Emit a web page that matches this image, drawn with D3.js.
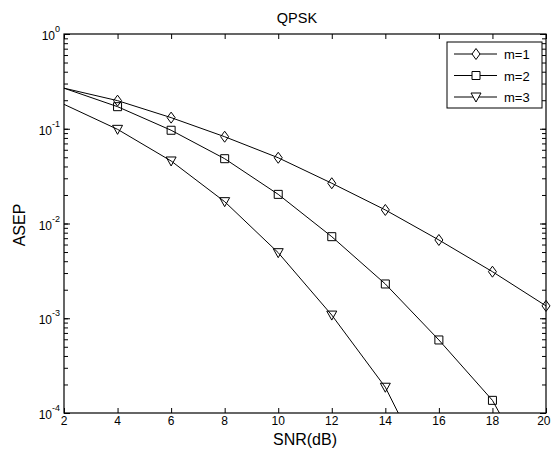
<!DOCTYPE html>
<html>
<head>
<meta charset="utf-8">
<script src="https://cdn.jsdelivr.net/npm/d3@7"></script>
<style>
  html, body { margin: 0; padding: 0; background: #fff; }
  svg { display: block; font-family: "Liberation Sans", Arial, sans-serif; }
</style>
</head>
<body>
<div class="svg-container"></div>
<script>
// data
var snr = [2, 4, 6, 8, 10, 12, 14, 16, 18, 20];
var asepM1 = [0.268, 0.198, 0.131, 0.0824, 0.0494, 0.0266, 0.0139, 0.0067, 0.0031, 0.00135];
var asepM2 = [0.268, 0.171, 0.0964, 0.0483, 0.0203, 0.00726, 0.0023, 0.00059, 0.000136, 0.000013];
var asepM3 = [0.181, 0.0986, 0.0457, 0.0170, 0.00492, 0.00108, 0.000187, 0.000014, 0.0000006, 0.00000002];
var seriesNames = ["m=1", "m=2", "m=3"];
var seriesMarkers = ["diamond", "square", "triangle"];
var xTicks = [2, 4, 6, 8, 10, 12, 14, 16, 18, 20];
var yExponents = [0, -1, -2, -3, -4];

var chart = (function() {
    var width = 551, height = 459;
    var left = 64, right = 546, top = 34, bottom = 413;
    var svg = null;

    var x = d3.scaleLinear().domain([2, 20]).range([left, right]);
    var y = d3.scaleLog().domain([1e-4, 1]).range([bottom, top]);

    // marker shapes, unfilled black outlines
    function markerPath(kind) {
        if (kind === "diamond") return "M0,-5.5L4,0L0,5.5L-4,0Z";
        if (kind === "square") return "M-4,-4H4V4H-4Z";
        return "M-5,-4L5,-4L0,5Z";
    }

    function cacheDom() {
        svg = d3.select(".svg-container").append("svg")
            .attr("width", width)
            .attr("height", height);
        svg.append("defs").append("clipPath").attr("id", "plotClip")
            .append("rect")
            .attr("x", left).attr("y", top)
            .attr("width", right - left).attr("height", bottom - top);
    }

    function drawAxes() {
        var minor = y.ticks();
        var major = yExponents.map(function(e) { return Math.pow(10, e); });

        // ticks point inwards on all four sides
        var axes = [
            [d3.axisBottom(x).tickValues(xTicks), "translate(0," + bottom + ")", 5],
            [d3.axisTop(x).tickValues(xTicks), "translate(0," + top + ")", 5],
            [d3.axisLeft(y).tickValues(minor), "translate(" + left + ",0)", 4],
            [d3.axisRight(y).tickValues(minor), "translate(" + right + ",0)", 4],
            [d3.axisLeft(y).tickValues(major), "translate(" + left + ",0)", 6],
            [d3.axisRight(y).tickValues(major), "translate(" + right + ",0)", 6]
        ];
        axes.forEach(function(a) {
            var g = svg.append("g").attr("transform", a[1])
                .call(a[0].tickSizeInner(-a[2]).tickSizeOuter(0).tickFormat(""));
            g.select(".domain").remove();
            g.selectAll("line").attr("stroke", "#000");
        });

        svg.append("rect")
            .attr("x", left).attr("y", top)
            .attr("width", right - left).attr("height", bottom - top)
            .attr("fill", "none").attr("stroke", "#000").attr("stroke-width", 1.2);

        // x tick labels, last one kept inside the page
        svg.selectAll(".xlab").data(xTicks).enter().append("text")
            .attr("class", "xlab")
            .attr("x", function(d, i) { return i === xTicks.length - 1 ? width - 0.5 : x(d); })
            .attr("y", 425)
            .attr("text-anchor", function(d, i) { return i === xTicks.length - 1 ? "end" : "middle"; })
            .attr("font-size", 12)
            .text(function(d) { return d; });

        // y tick labels as 10 with superscript
        var ylab = svg.selectAll(".ylab").data(yExponents).enter().append("text")
            .attr("class", "ylab")
            .attr("x", 60)
            .attr("y", function(d) { return y(Math.pow(10, d)) + 6; })
            .attr("text-anchor", "end")
            .attr("font-size", 12);
        ylab.append("tspan").text("10");
        ylab.append("tspan")
            .attr("dy", -8).attr("font-size", 9)
            .text(function(d) { return d; });

        svg.append("text")
            .attr("x", 297).attr("y", 23)
            .attr("text-anchor", "middle").attr("font-size", 14.5)
            .text("QPSK");

        svg.append("text")
            .attr("x", 305).attr("y", 445)
            .attr("text-anchor", "middle").attr("font-size", 16)
            .text("SNR(dB)");

        svg.append("text")
            .attr("transform", "translate(25,225) rotate(-90)")
            .attr("text-anchor", "middle").attr("font-size", 16)
            .text("ASEP");
    }

    function drawSeries() {
        var all = [asepM1, asepM2, asepM3];
        var line = d3.line()
            .x(function(d) { return x(d[0]); })
            .y(function(d) { return y(d[1]); });
        var plot = svg.append("g").attr("clip-path", "url(#plotClip)");

        all.forEach(function(vals, i) {
            var pts = snr.map(function(s, j) { return [s, vals[j]]; });
            plot.append("path")
                .attr("d", line(pts))
                .attr("fill", "none").attr("stroke", "#000").attr("stroke-width", 1);
            // no marker on the first point, none below the axis
            var shown = pts.filter(function(d, j) { return j > 0 && d[1] >= 1e-4; });
            svg.selectAll(".mk" + i).data(shown).enter().append("path")
                .attr("class", "mk" + i)
                .attr("transform", function(d) { return "translate(" + x(d[0]) + "," + y(d[1]) + ")"; })
                .attr("d", markerPath(seriesMarkers[i]))
                .attr("fill", "none").attr("stroke", "#000").attr("stroke-width", 1);
        });
    }

    function drawLegend() {
        var lg = svg.append("g");
        lg.append("rect")
            .attr("x", 447).attr("y", 42).attr("width", 95).attr("height", 66)
            .attr("fill", "#fff").attr("stroke", "#000").attr("stroke-width", 1);
        var rows = lg.selectAll(".row").data(seriesNames).enter().append("g")
            .attr("transform", function(d, i) { return "translate(0," + (54 + i * 21.5) + ")"; });
        rows.append("line")
            .attr("x1", 454).attr("x2", 497).attr("y1", 0).attr("y2", 0)
            .attr("stroke", "#000");
        rows.append("path")
            .attr("transform", "translate(476,0)")
            .attr("d", function(d, i) { return markerPath(seriesMarkers[i]); })
            .attr("fill", "#fff").attr("stroke", "#000");
        rows.append("text")
            .attr("x", 504).attr("y", 5)
            .attr("font-size", 13)
            .text(function(d) { return d; });
    }

    function init() {
        cacheDom();
        drawAxes();
        drawSeries();
        drawLegend();
    }

    init();
    return { svg: svg };
})();
</script>
</body>
</html>
